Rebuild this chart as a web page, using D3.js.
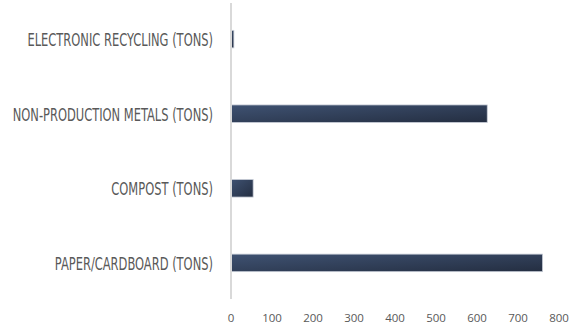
<!DOCTYPE html>
<html>
<head>
<meta charset="utf-8">
<script src="https://cdn.jsdelivr.net/npm/d3@7"></script>
<style>
  html, body { margin: 0; padding: 0; background: #fff; }
  svg { display: block; }
</style>
</head>
<body>
<svg></svg>
<script>
const width = 578;
const height = 324;

// data
const categories = [
    "ELECTRONIC RECYCLING (TONS)",
    "NON-PRODUCTION METALS (TONS)",
    "COMPOST (TONS)",
    "PAPER/CARDBOARD (TONS)"
];
const values = [7, 625, 54, 760];
const ticks = [0, 100, 200, 300, 400, 500, 600, 700, 800];

const svg = d3.select("svg")
    .attr("width", width)
    .attr("height", height);

const x = d3.scaleLinear()
    .domain([0, 800])
    .range([231, 559]);

const y = d3.scaleBand()
    .domain(categories)
    .range([2, 300])
    .paddingInner(0.765)
    .paddingOuter(0.38);

// bar gradient
const defs = svg.append("defs");
const grad = defs.append("linearGradient")
    .attr("id", "barGrad")
    .attr("x1", "0").attr("y1", "0")
    .attr("x2", "1").attr("y2", "1");
grad.append("stop").attr("offset", "0%").attr("stop-color", "#3f5272");
grad.append("stop").attr("offset", "100%").attr("stop-color", "#242e41");

// bars
svg.selectAll(".bar")
    .data(categories)
    .enter().append("rect")
    .attr("class", "bar")
    .attr("x", x(0))
    .attr("y", d => y(d))
    .attr("width", (d, i) => x(values[i]) - x(0))
    .attr("height", y.bandwidth())
    .attr("fill", "url(#barGrad)")
    .attr("stroke", "#c9ced8")
    .attr("stroke-width", 0.8);

// vertical axis line
svg.append("line")
    .attr("x1", x(0)).attr("x2", x(0))
    .attr("y1", 3).attr("y2", 299)
    .attr("stroke", "#d9d9d9")
    .attr("stroke-width", 2);

// category labels
svg.selectAll(".cat")
    .data(categories)
    .enter().append("text")
    .attr("class", "cat")
    .attr("x", 213)
    .attr("y", d => y(d) + y.bandwidth() / 2 + 1)
    .attr("dy", "0.36em")
    .attr("text-anchor", "end")
    .attr("font-family", "'DejaVu Sans Condensed', 'DejaVu Sans'")
    .attr("font-size", 17)
    .attr("fill", "#595959")
    .text(d => d)
    .each(function () {
        const len = this.getComputedTextLength();
        d3.select(this)
            .attr("textLength", len * 0.75)
            .attr("lengthAdjust", "spacingAndGlyphs");
    });

// x tick labels
svg.selectAll(".tick-label")
    .data(ticks)
    .enter().append("text")
    .attr("class", "tick-label")
    .attr("x", d => x(d))
    .attr("y", 321.5)
    .attr("text-anchor", "middle")
    .attr("font-family", "'Open Sans'")
    .attr("font-size", 11.5)
    .attr("fill", "#595959")
    .text(d => d);
</script>
</body>
</html>
